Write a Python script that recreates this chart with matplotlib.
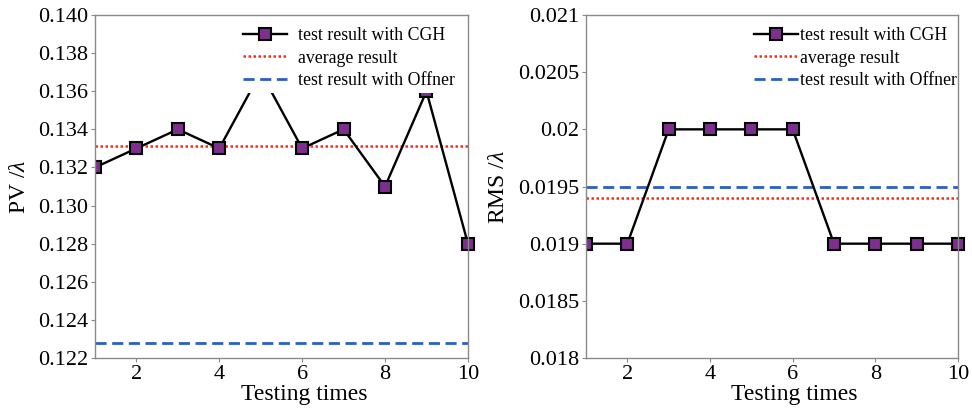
import matplotlib
matplotlib.use("Agg")
import matplotlib.pyplot as plt
from matplotlib.patches import Rectangle
from matplotlib.ticker import FuncFormatter

tests = [1, 2, 3, 4, 5, 6, 7, 8, 9, 10]
pv_cgh = [0.132, 0.133, 0.134, 0.133, 0.137, 0.133, 0.134, 0.131, 0.136, 0.128]
pv_avg = 0.1331
pv_offner = 0.1228
rms_cgh = [0.019, 0.019, 0.020, 0.020, 0.020, 0.020, 0.019, 0.019, 0.019, 0.019]
rms_avg = 0.0194
rms_offner = 0.0195
pv_ticks = [0.122, 0.124, 0.126, 0.128, 0.130, 0.132, 0.134, 0.136, 0.138, 0.140]
rms_ticks = [0.018, 0.0185, 0.019, 0.0195, 0.020, 0.0205, 0.021]
x_ticks = [2, 4, 6, 8, 10]

plt.rcParams['font.family'] = ['Liberation Serif', 'DejaVu Serif']
plt.rcParams['mathtext.fontset'] = 'custom'
plt.rcParams['mathtext.it'] = 'Liberation Serif:italic'
plt.rcParams['mathtext.rm'] = 'Liberation Serif'

fig = plt.figure(figsize=(9.72, 4.08), dpi=100)
ax1 = fig.add_axes([0.0977, 0.1225, 0.3837, 0.8407])
ax2 = fig.add_axes([0.6029, 0.1225, 0.3827, 0.8407])

purple = '#7E2F8E'
blue = '#2A5FC4'
red = '#FF2A1A'

def draw(ax, y, avg, offner, ylim, yticks, fmt, ylabel, textpad, anchor):
    line, = ax.plot(tests, y, '-s', color='black', lw=1.7, ms=8.5,
                    mfc=purple, mec='black', mew=1.5, label='test result with CGH', zorder=3)
    line.set_clip_path(Rectangle((0, -0.05), 1.1, 1.1, transform=ax.transAxes))
    ax.axhline(avg, color=red, lw=1.8, ls=(0, (1, 1)), label='average result', zorder=2)
    ax.axhline(offner, color=blue, lw=2.0, ls=(0, (4, 2)), label='test result with Offner', zorder=2)
    ax.set_xlim(1, 10)
    ax.set_ylim(*ylim)
    ax.set_xticks(x_ticks)
    ax.set_yticks(yticks)
    ax.yaxis.set_major_formatter(FuncFormatter(fmt))
    for s in ax.spines.values():
        s.set_color('#8a8a8a')
        s.set_linewidth(1.0)
        s.set_zorder(6)
    ax.tick_params(direction='out', length=3, width=0.8, color='#8a8a8a',
                   labelsize=16, labelcolor='black', pad=2)
    ax.set_xlabel('Testing times', fontsize=17)
    ax.xaxis.set_label_coords(0.56, -0.075)
    ax.set_ylabel(ylabel, fontsize=17, labelpad=6)
    leg = ax.legend(loc='upper right', bbox_to_anchor=anchor, frameon=True, fontsize=12.8,
                    handlelength=2.5, handletextpad=textpad, borderaxespad=0.0,
                    labelspacing=0.3, borderpad=0.25)
    leg.get_frame().set_edgecolor('none')
    leg.get_frame().set_facecolor('white')
    leg.get_frame().set_alpha(1.0)
    leg.set_zorder(5)

draw(ax1, pv_cgh, pv_avg, pv_offner, (0.122, 0.140), pv_ticks,
     lambda v, p: f'{v:.3f}', r'PV /$\lambda$', 0.6, (0.977, 0.977))
draw(ax2, rms_cgh, rms_avg, rms_offner, (0.018, 0.021), rms_ticks,
     lambda v, p: f'{round(v, 5):g}', r'RMS /$\lambda$', 0.1, (1.009, 0.977))

fig.savefig('out.png', dpi=100)
